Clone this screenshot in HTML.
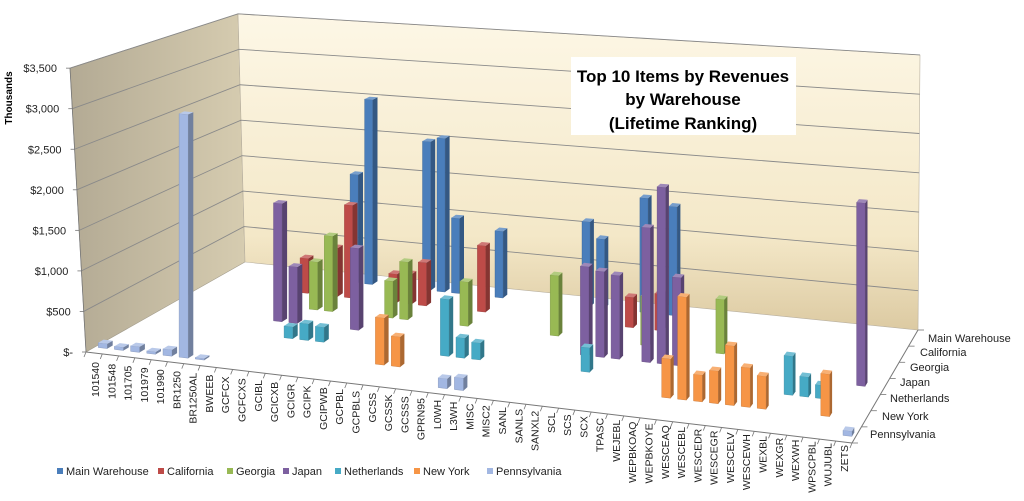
<!DOCTYPE html>
<html><head><meta charset="utf-8"><style>
html,body{margin:0;padding:0;background:#fff;}
svg{display:block;font-family:"Liberation Sans",sans-serif;}
</style></head><body>
<svg id="chart" width="1024" height="501" viewBox="0 0 1024 501">
<defs>
<linearGradient id="backWall" x1="0" y1="0" x2="0" y2="1"><stop offset="0" stop-color="#fdf7e6"/><stop offset="0.7" stop-color="#f4e8c8"/><stop offset="1" stop-color="#dccaa2"/></linearGradient>
<linearGradient id="leftWall" x1="0" y1="0" x2="1" y2="0"><stop offset="0" stop-color="#b3aa94"/><stop offset="1" stop-color="#d6ccb0"/></linearGradient>
</defs>
<g id="walls"></g>
<g id="bars"></g>
<g id="axes"></g>
<text x="12" y="98" transform="rotate(-90 12 98)" text-anchor="middle" font-size="10" font-weight="bold">Thousands</text>
<g>
<rect x="571" y="57" width="225" height="78" fill="#fff"/>
<text x="683" y="82" text-anchor="middle" font-size="17" font-weight="bold">Top 10 Items by Revenues</text>
<text x="683" y="105" text-anchor="middle" font-size="17" font-weight="bold">by Warehouse</text>
<text x="683" y="129" text-anchor="middle" font-size="17" font-weight="bold">(Lifetime Ranking)</text>
</g>
<g id="legend"></g>
</svg>
<script>
const categories = ["101540","101548","101705","101979","101990","BR1250","BR1250AL","BWEEB","GCFCX","GCFCXS","GCIBL","GCICXB","GCIGR","GCIPK","GCIPWB","GCPBL","GCPBLS","GCSS","GCSSK","GCSSS","GPRN95","L0WH","L3WH","MISC","MISC2","SANL","SANLS","SANXL2","SCL","SCS","SCX","TPASC","WEJEBL","WEPBKOAQ","WEPBKOYE","WESCEAQ","WESCEBL","WESCEDR","WESCEGR","WESCELV","WESCEWH","WEXBL","WEXGR","WEXWH","WPSCPBL","WUJUBL","ZETS"];
const seriesNames = ["Main Warehouse","California","Georgia","Japan","Netherlands","New York","Pennsylvania"];
const seriesColors = ["#4a7ebb","#be4b48","#98b954","#7d60a0","#46aac5","#f69546","#a2b7e2"];
const mainWarehouse = [0,0,0,0,0,0,0,0,1480,2520, 0,0,0,2010,2070,1010,0,0,890,0, 0,0,0,0,1120,910,0,0,1500,0, 1420,0,0,0,0,0,0,0,0,0, 0,0,0,0,0,0,0];
const california = [0,0,0,0,0,0,470,0,650,1240, 0,0,380,400,570,0,0,0,870,0, 0,0,0,0,0,0,0,0,390,0, 470,0,0,0,0,0,0,0,0,0, 0,0,0,0,0,0,0];
const georgia = [0,0,0,0,0,0,0,0,630,990, 0,0,0,480,750,0,0,0,570,0, 0,0,0,0,770,0,0,0,0,0, 620,0,0,0,0,680,0,0,0,0, 0,0,0,0,0,0,0];
const japan = [0,0,0,0,0,0,0,1530,730,0, 0,0,1050,0,0,0,0,0,0,0, 0,0,0,0,0,0,0,1110,1070,1040, 0,1670,2190,1090,0,0,0,0,0,0, 0,0,0,0,0,2220,0];
const netherlands = [0,0,0,0,0,0,0,0,0,150, 210,190,0,0,0,0,0,0,0,710, 250,210,0,0,0,0,0,0,300,0, 0,0,0,0,0,0,0,0,0,0, 0,470,240,160,0,0,0];
const newYork = [0,0,0,0,0,0,0,0,0,0, 0,0,0,0,0,0,580,370,0,0, 0,0,0,0,0,0,0,0,0,0, 0,0,0,0,470,1230,320,390,710,470, 390,0,0,0,500,0,0];
const pennsylvania = [60,40,70,30,80,3000,20,0,0,0, 0,0,0,0,0,0,0,0,0,0, 0,120,150,0,0,0,0,0,0,0, 0,0,0,0,0,0,0,0,0,0, 0,0,0,0,0,0,60];
const yTickValues = [0,500,1000,1500,2000,2500,3000,3500];
const yTickLabels = ["$-","$500","$1,000","$1,500","$2,000","$2,500","$3,000","$3,500"];

const allSeries = [mainWarehouse,california,georgia,japan,netherlands,newYork,pennsylvania];
const NS = "http://www.w3.org/2000/svg";
const N = categories.length, ROWS = 7;
function floorXY(u,t){
  return [(1-t)*(86+766*u)+t*(245+673*u),(1-t)*(352+91*u)+t*(262+68*u)];
}
function vScale(u,t){return (1-t)*(0.0811+0.0055*u)+t*(0.0709+0.0077*u);}
function proj(u,t,v){const p=floorXY(u,t);return [p[0],p[1]-v*vScale(u,t)];}
function el(tag,attrs,parent){const e=document.createElementNS(NS,tag);for(const k in attrs)e.setAttribute(k,attrs[k]);parent.appendChild(e);return e;}
function pts(a){return a.map(p=>p[0].toFixed(1)+","+p[1].toFixed(1)).join(" ");}
function shade(hex,f){const n=parseInt(hex.slice(1),16);let r=n>>16,g=(n>>8)&255,b=n&255;
  const c=x=>Math.max(0,Math.min(255,Math.round(f>1?x+(255-x)*(f-1):x*f)));return "rgb("+c(r)+","+c(g)+","+c(b)+")";}

const walls=document.getElementById('walls');
const lw=el('polygon',{points:"86,352 245,262 238,14 70,68",fill:"url(#leftWall)",stroke:"#a09a8a","stroke-width":"0.6"},walls);

const bw=el('polygon',{points:"245,262 918,330 920,55 238,14",fill:"url(#backWall)",stroke:"#b8b0a0","stroke-width":"0.6"},walls);

yTickValues.forEach((v,k)=>{
  if(v===0)return;
  const f=v/3500;
  const lx=86-16*f, ly=352-v*0.0811, mx=245-7*f, my=262-v*0.0709, rx=918+2*f, ry=330-v*0.0786;
  const g=el('polyline',{points:`${lx},${ly} ${mx},${my} ${rx},${ry}`,fill:"none",stroke:"#8a8a8a","stroke-width":"0.9"},walls);
  
});

const axes=document.getElementById('axes');
yTickValues.forEach((v,k)=>{
  const y=352-v*0.0811, x=86-16*v/3500;
  const t=el('text',{x:x-13,y:y+4,"text-anchor":"end","font-size":"11",fill:"#222"},axes);
  t.textContent=yTickLabels[k];
  
  el('line',{x1:x-4,y1:y,x2:x,y2:y,stroke:"#777","stroke-width":"0.8"},axes);
});
el('line',{x1:86,y1:352,x2:70,y2:68,stroke:"#777","stroke-width":"0.8"},axes);
const fa=el('line',{x1:86,y1:352,x2:852,y2:443,stroke:"#777","stroke-width":"1"},axes);

const da=el('line',{x1:852,y1:443,x2:918,y2:330,stroke:"#777","stroke-width":"1"},axes);

for(let i=0;i<=N;i++){const p=floorXY(i/N,0);el('line',{x1:p[0],y1:p[1],x2:p[0]-2,y2:p[1]+5,stroke:"#777","stroke-width":"0.8"},axes);}
categories.forEach((c,i)=>{
  const cx=95+16.28*i+4, ty=362+83*i/46;
  const t=el('text',{x:cx,y:ty,"text-anchor":"end","font-size":"10.5",fill:"#222",transform:`rotate(-90 ${cx} ${ty})`},axes);
  t.textContent=c;
  
});
for(let r=0;r<=ROWS;r++){const p=floorXY(1,r/ROWS);el('line',{x1:p[0],y1:p[1],x2:p[0]+6,y2:p[1],stroke:"#777","stroke-width":"0.8"},axes);}
const depthLabelPos=[[928,342],[920,356],[910,371],[900,386],[890,402],[882,420],[870,438]];
seriesNames.forEach((s,k)=>{
  const t=el('text',{x:depthLabelPos[k][0],y:depthLabelPos[k][1],"font-size":"11",fill:"#222"},axes);
  t.textContent=s;
  
});

const bars=document.getElementById('bars');
for(let s=0;s<ROWS;s++){
  const r=ROWS-1-s;
  const data=allSeries[s], col=seriesColors[s];
  for(let i=0;i<N;i++){
    const v=data[i]; if(!v)continue;
    const u0=(i+0.22)/N,u1=(i+0.78)/N,t0=(r+0.38)/ROWS,t1=(r+0.62)/ROWS;
    const g=el('g',{},bars);
    
    
    el('polygon',{points:pts([proj(u0,t0,0),proj(u1,t0,0),proj(u1,t0,v),proj(u0,t0,v)]),fill:col,stroke:shade(col,0.8),"stroke-width":"0.4"},g);
    el('polygon',{points:pts([proj(u1,t0,0),proj(u1,t1,0),proj(u1,t1,v),proj(u1,t0,v)]),fill:shade(col,0.7)},g);
    el('polygon',{points:pts([proj(u0,t0,v),proj(u1,t0,v),proj(u1,t1,v),proj(u0,t1,v)]),fill:shade(col,1.25)},g);
  }
}

const legend=document.getElementById('legend');
const legendX=[[57,66],[158,167],[227,236],[283,292],[335,344],[414,423],[487,496]];
seriesNames.forEach((s,k)=>{
  const g=el('g',{},legend);
  
  
  el('rect',{x:legendX[k][0],y:468,width:6,height:6,fill:seriesColors[k]},g);
  const t=el('text',{x:legendX[k][1],y:475,"font-size":"11",fill:"#222"},g);
  t.textContent=s;
});
</script>
</body></html>
